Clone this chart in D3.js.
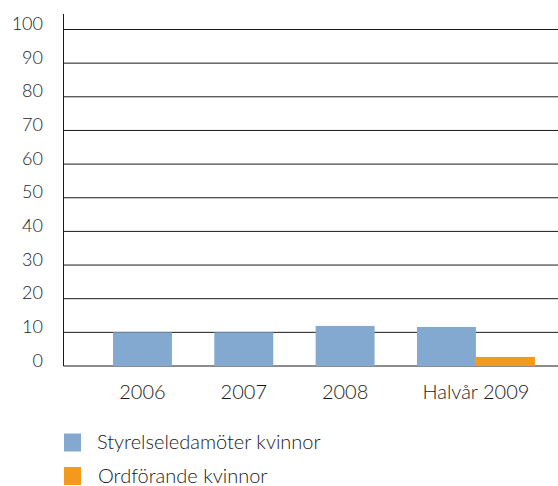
<!DOCTYPE html>
<html>
<head>
<meta charset="utf-8">
<script src="https://cdn.jsdelivr.net/npm/d3@7"></script>
<style>
  body { margin: 0; background: #fff; }
  text { font-family: Lato, "Open Sans", sans-serif; font-weight: 300; fill: #1a1a1a; }
</style>
</head>
<body>
<div id="chart"></div>
<script>
// data
let categories = ["2006", "2007", "2008", "Halvår 2009"];
let boardWomen = [10, 10, 11.9, 11.6];     // Styrelseledamöter kvinnor
let chairWomen = [0, 0, 0, 2.7];           // Ordförande kvinnor
let yTicks = [0, 10, 20, 30, 40, 50, 60, 70, 80, 90, 100];
let seriesNames = ["Styrelseledamöter kvinnor", "Ordförande kvinnor"];
let seriesColors = ["#83a9d1", "#f39a1e"];

const width = 558, height = 486;
const axisX = 63.5;

let svg = d3.select("#chart")
    .append("svg")
    .attr("width", width)
    .attr("height", height);

// y scale: 0 -> 366, 100 -> 29.5
let y = d3.scaleLinear()
    .domain([0, 100])
    .range([366, 29.5]);

// one band per category, band = width of a single bar
let x = d3.scaleBand()
    .domain(categories)
    .range([91.8, 497.1])
    .paddingInner(0.418)
    .paddingOuter(0.209);

// gridlines
svg.append("g")
    .selectAll("line")
    .data(yTicks)
    .enter()
    .append("line")
    .attr("x1", axisX)
    .attr("x2", width)
    .attr("y1", d => y(d))
    .attr("y2", d => y(d))
    .attr("stroke", "#1a1a1a")
    .attr("stroke-width", 1);

// bars
let rows = categories.map((c, i) => ({ cat: c, a: boardWomen[i], b: chairWomen[i] }));

svg.append("g")
    .selectAll("rect")
    .data(rows)
    .enter()
    .append("rect")
    .attr("x", d => x(d.cat))
    .attr("y", d => y(d.a))
    .attr("width", x.bandwidth())
    .attr("height", d => y(0) - y(d.a))
    .attr("fill", seriesColors[0]);

svg.append("g")
    .selectAll("rect")
    .data(rows.filter(d => d.b > 0))
    .enter()
    .append("rect")
    .attr("x", d => x(d.cat) + x.bandwidth())
    .attr("y", d => y(d.b))
    .attr("width", x.bandwidth())
    .attr("height", d => y(0) - y(d.b))
    .attr("fill", seriesColors[1]);

// y axis line
svg.append("line")
    .attr("x1", axisX).attr("x2", axisX)
    .attr("y1", 14).attr("y2", y(0))
    .attr("stroke", "#1a1a1a");

// y tick labels (baseline sits on the gridline)
let yAxis = d3.axisLeft(y).tickValues(yTicks).tickSize(0).tickPadding(0);
let yg = svg.append("g")
    .attr("transform", "translate(43,0)")
    .call(yAxis);
yg.select(".domain").remove();
yg.selectAll("text")
    .attr("dy", 0)
    .style("font-size", "18px")
    .style("font-family", "Lato, sans-serif")
    .style("font-weight", 300)
    .attr("fill", "#1a1a1a");

// x labels, centred on the bars drawn for each category
svg.append("g")
    .selectAll("text")
    .data(rows)
    .enter()
    .append("text")
    .attr("x", d => x(d.cat) + (d.b > 0 ? x.bandwidth() : x.bandwidth() / 2))
    .attr("y", 399)
    .style("text-anchor", "middle")
    .style("font-size", "20px")
    .text(d => d.cat);

// legend
let legend = svg.append("g");
seriesNames.forEach((name, i) => {
    legend.append("rect")
        .attr("x", 64)
        .attr("y", 433.5 + i * 33.5)
        .attr("width", 17)
        .attr("height", 18)
        .attr("fill", seriesColors[i]);
    legend.append("text")
        .attr("x", 97 + i)
        .attr("y", 449 + i * 34)
        .style("font-size", "20px")
        .text(name);
});
</script>
</body>
</html>
